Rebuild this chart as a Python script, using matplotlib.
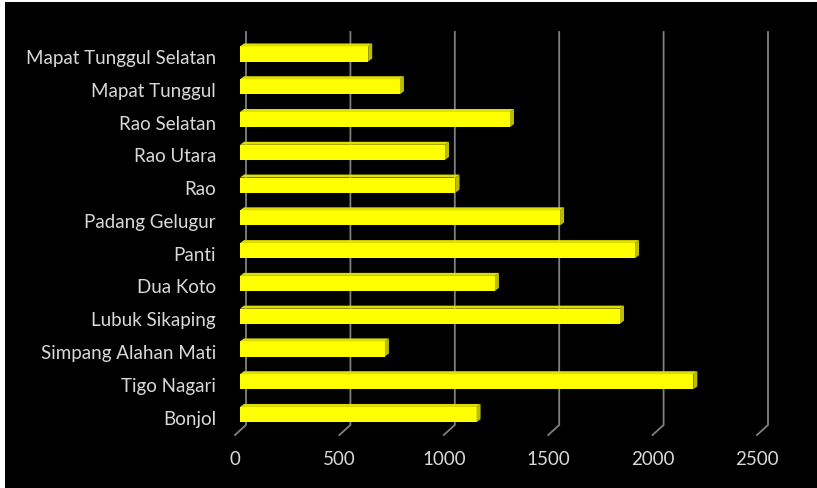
import matplotlib
matplotlib.use("Agg")
import matplotlib.pyplot as plt
import matplotlib.transforms as mtransforms
from matplotlib.patches import Rectangle, Polygon

# Kecamatan, bottom to top
categories = [
    "Bonjol", "Tigo Nagari", "Simpang Alahan Mati", "Lubuk Sikaping",
    "Dua Koto", "Panti", "Padang Gelugur", "Rao", "Rao Utara",
    "Rao Selatan", "Mapat Tunggul", "Mapat Tunggul Selatan",
]
values = [1133, 2171, 694, 1820, 1221, 1892, 1533, 1032, 982, 1293, 766, 614]
x_ticks = [0, 500, 1000, 1500, 2000, 2500]

W, H = 817, 489
BAR_FRONT = "#FFFF00"
BAR_SIDE = "#BDBD00"
BAR_TOP = "#DEDE00"
GRID = "#808080"
TEXT = "#D9D9D9"

fig = plt.figure(figsize=(W / 100, H / 100), dpi=100, facecolor="white")
fig.patches.append(Rectangle((5 / W, 0), 1 - 5 / W, 1 - 3 / H,
                             transform=fig.transFigure, facecolor="black",
                             edgecolor="none", zorder=-10))

# plot area in pixels
left_px, right_px = 234, 800
top_px, bottom_px = 38.6, 431.9
ax = fig.add_axes([left_px / W, 1 - bottom_px / H,
                   (right_px - left_px) / W, (bottom_px - top_px) / H])
ax.set_facecolor("none")
for s in ax.spines.values():
    s.set_visible(False)

px_per_unit = 0.2088
x0 = -(240 - left_px) / px_per_unit
x1 = (right_px - 240) / px_per_unit
ax.set_xlim(x0, x1)
ax.set_ylim(-0.5, len(categories) - 0.5)

# size of one pixel in data units
ux = (x1 - x0) / (right_px - left_px)
uy = len(categories) / (bottom_px - top_px)

def py_to_y(py):
    return (bottom_px - py) * uy - 0.5

# back-wall gridlines with the slanted floor foot
y_top, y_back, y_front = py_to_y(33), py_to_y(426), py_to_y(436)
for v in x_ticks:
    xb = v + 6 * ux
    xf = v - 5 * ux
    ax.plot([xb, xb, xf], [y_top, y_back, y_front], color=GRID, lw=1.3,
            solid_joinstyle="miter", clip_on=False, zorder=1)
    ax.text(xf, py_to_y(460), str(v), color=TEXT, fontsize=13.5,
            family="Lato", ha="center", va="center", clip_on=False)

# 3D-style bars
h = 0.46
dx, dy = 4 * ux, 3 * uy
ypos = list(range(len(categories)))
ax.barh(ypos, values, height=h, color=BAR_FRONT, edgecolor="none", zorder=3)
for y, v in zip(ypos, values):
    yt, yb = y + h / 2, y - h / 2
    ax.add_patch(Polygon([(v, yb), (v, yt), (v + dx, yt + dy), (v + dx, yb + dy)],
                         closed=True, facecolor=BAR_SIDE, edgecolor="none", zorder=3))
    ax.add_patch(Polygon([(0, yt), (v, yt), (v + dx, yt + dy), (dx, yt + dy)],
                         closed=True, facecolor=BAR_TOP, edgecolor="none", zorder=3))

ax.set_xticks([])
ax.set_yticks(ypos)
ax.set_yticklabels(categories, color=TEXT, fontsize=13.5, family="Lato")
ax.tick_params(axis="y", length=0, pad=13)
shift = mtransforms.ScaledTranslation(0, -2 / 100, fig.dpi_scale_trans)
for lbl in ax.get_yticklabels():
    lbl.set_transform(lbl.get_transform() + shift)

fig.savefig("out.png", dpi=100, facecolor="white")
